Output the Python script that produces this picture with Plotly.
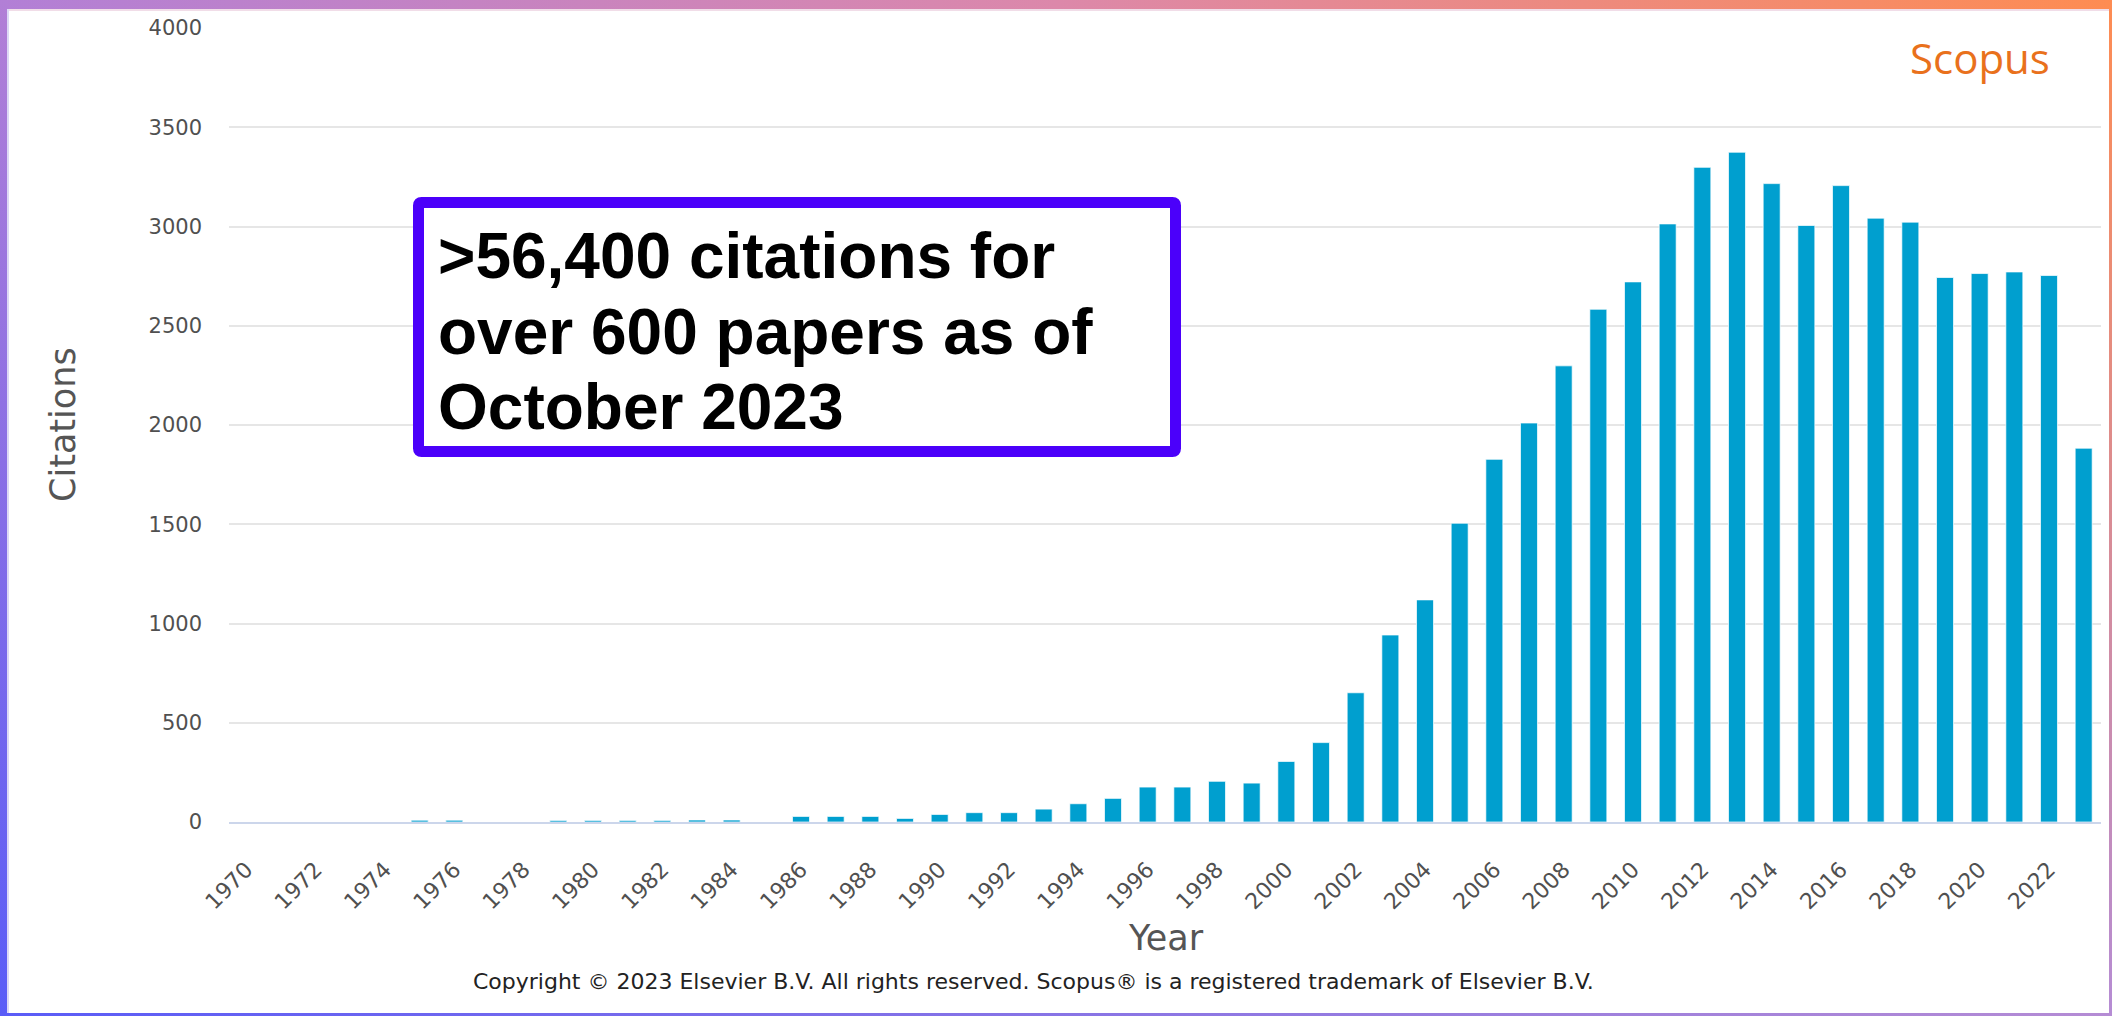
import base64
import plotly.graph_objects as go

# ---------------- data ----------------
years = list(range(1970, 2024))
citations = [0, 0, 0, 0, 0, 9, 9, 0, 0, 8,
             8, 8, 8, 10, 10, 0, 28, 28, 28, 18,
             38, 47, 47, 65, 92, 119, 176, 176, 205, 196,
             305, 400, 651, 942, 1119, 1505, 1827, 2010, 2298, 2583,
             2721, 3013, 3298, 3374, 3216, 3005, 3206, 3042, 3022, 2743,
             2763, 2771, 2753, 1883]
x_tick_years = list(range(1970, 2023, 2))
y_ticks = [0, 500, 1000, 1500, 2000, 2500, 3000, 3500, 4000]
note_lines = [">56,400 citations for", "over 600 papers as of", "October 2023"]
copyright_text = ("Copyright \u00a9 2023 Elsevier B.V. All rights reserved. "
                  "Scopus\u00ae is a registered trademark of Elsevier B.V.")

# ---------------- geometry helpers ----------------
W, H = 2112, 1016
ML, MR, MT, MB = 229, 11, 28, 194
PW, PH = W - ML - MR, H - MT - MB


def px(xp):
    return (xp - ML) / PW


def py(yp):
    return (H - MB - yp) / PH


fig = go.Figure()
fig.add_trace(go.Bar(
    x=years, y=citations,
    marker=dict(color="#009fcf", line=dict(color="rgba(255,255,255,0.7)", width=1)),
    hoverinfo="x+y",
))

YTICKFONT = dict(family="DejaVu Sans", size=21, color="#505050")
XTICKFONT = dict(family="DejaVu Sans", size=22, color="#505050")

fig.update_layout(
    width=W, height=H,
    margin=dict(l=ML, r=MR, t=MT, b=MB, pad=0),
    paper_bgcolor="white", plot_bgcolor="white",
    bargap=0.51, showlegend=False,
    xaxis=dict(range=[1969.5, 2023.5], tickmode="array", tickvals=x_tick_years,
               ticktext=[str(v) for v in x_tick_years], tickangle=-45,
               tickfont=XTICKFONT, showgrid=False, zeroline=False,
               showline=True, linecolor="#ccd6eb", linewidth=2,
               ticks="", ticklabelstandoff=24),
    yaxis=dict(range=[0, 4000], tickmode="array", tickvals=y_ticks,
               ticktext=[str(v) for v in y_ticks], tickfont=YTICKFONT,
               showgrid=True, gridcolor="#e6e6e6", gridwidth=2,
               zeroline=False, showline=False, ticks="", ticklabelstandoff=26),
)

# frame with gradients (SVG image over the page edges)
svg = f'''<svg xmlns="http://www.w3.org/2000/svg" width="{W}" height="{H}" viewBox="0 0 {W} {H}" preserveAspectRatio="none">
<defs>
<linearGradient id="gt" x1="0" y1="0" x2="1" y2="0"><stop offset="0" stop-color="#b27fd6"/><stop offset="0.5" stop-color="#dc88aa"/><stop offset="1" stop-color="#fe8c52"/></linearGradient>
<linearGradient id="gl" x1="0" y1="0" x2="0" y2="1"><stop offset="0" stop-color="#b27fd6"/><stop offset="1" stop-color="#5a5cf7"/></linearGradient>
<linearGradient id="gb" x1="0" y1="0" x2="1" y2="0"><stop offset="0" stop-color="#5a5cf7"/><stop offset="1" stop-color="#b58cd4"/></linearGradient>
<linearGradient id="gr" x1="0" y1="0" x2="0" y2="1"><stop offset="0" stop-color="#fe8c52"/><stop offset="1" stop-color="#b58cd4"/></linearGradient>
</defs>
<rect x="0" y="0" width="{W}" height="9" fill="url(#gt)"/>
<rect x="0" y="9" width="{W}" height="2" fill="#f1dde8"/>
<rect x="0" y="0" width="7" height="{H}" fill="url(#gl)"/>
<rect x="7" y="9" width="2" height="{H}" fill="#ddd8f6"/>
<rect x="0" y="{H-3}" width="{W}" height="3" fill="url(#gb)"/>
<rect x="{W-3}" y="0" width="3" height="{H}" fill="url(#gr)"/>
</svg>'''
src = "data:image/svg+xml;base64," + base64.b64encode(svg.encode()).decode()
fig.add_layout_image(dict(source=src, xref="paper", yref="paper",
                          x=px(0), y=py(0), sizex=W / PW, sizey=H / PH,
                          xanchor="left", yanchor="top", sizing="stretch",
                          layer="above"))

# annotation box (rounded rectangle)
bx0, bx1, by0, by1, r = 418.5, 1175.5, 202.5, 451.5, 3
path = (f"M {px(bx0 + r)} {py(by0)} L {px(bx1 - r)} {py(by0)} "
        f"Q {px(bx1)} {py(by0)} {px(bx1)} {py(by0 + r)} "
        f"L {px(bx1)} {py(by1 - r)} Q {px(bx1)} {py(by1)} {px(bx1 - r)} {py(by1)} "
        f"L {px(bx0 + r)} {py(by1)} Q {px(bx0)} {py(by1)} {px(bx0)} {py(by1 - r)} "
        f"L {px(bx0)} {py(by0 + r)} Q {px(bx0)} {py(by0)} {px(bx0 + r)} {py(by0)} Z")
fig.add_shape(type="path", path=path, xref="paper", yref="paper",
              line=dict(color="#4b00fa", width=11), fillcolor="white")

fsz = 64
for i, line in enumerate(note_lines):
    base = [277, 353, 428][i]
    fig.add_annotation(text=line, x=px(436), y=py(base - 0.33 * fsz),
                       xref="paper", yref="paper", xanchor="left", yanchor="middle",
                       showarrow=False,
                       font=dict(family="Liberation Sans", size=fsz, color="black", weight="bold"))

# axis titles
fig.add_annotation(text="Citations", x=px(63), y=0.5, xref="paper", yref="paper",
                   textangle=-90, showarrow=False, xanchor="center", yanchor="middle",
                   font=dict(family="DejaVu Sans", size=35, color="#555555"))
fig.add_annotation(text="Year", x=px(1166), y=py(938), xref="paper", yref="paper",
                   showarrow=False, xanchor="center", yanchor="middle",
                   font=dict(family="DejaVu Sans", size=35, color="#555555"))
fig.add_annotation(text=copyright_text, x=px(1033), y=py(981), xref="paper", yref="paper",
                   showarrow=False, xanchor="center", yanchor="middle",
                   font=dict(family="DejaVu Sans", size=22, color="#222222"))
fig.add_annotation(text="Scopus", x=px(1980), y=py(58), xref="paper", yref="paper",
                   showarrow=False, xanchor="center", yanchor="middle",
                   font=dict(family="Open Sans", size=42, color="#e9711c"))

fig.write_html("out.html")
